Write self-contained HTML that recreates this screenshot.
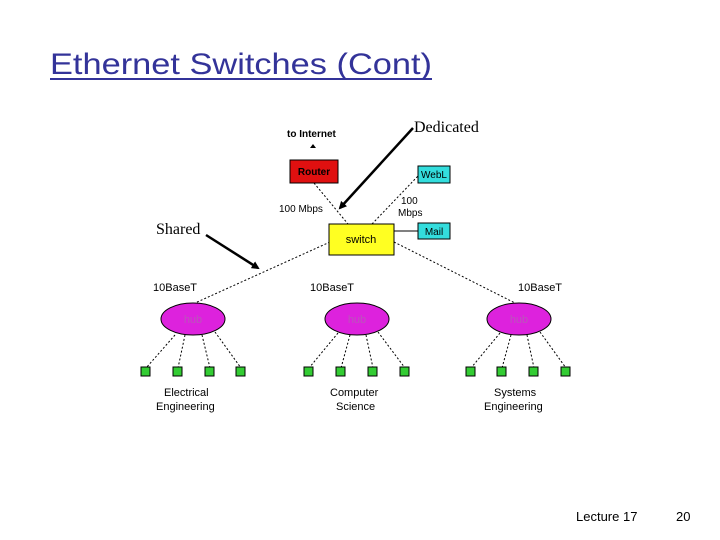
<!DOCTYPE html>
<html><head><meta charset="utf-8"><style>
html,body{margin:0;padding:0;background:#fff;}
svg{display:block;}
</style></head><body>
<svg width="720" height="540" viewBox="0 0 720 540" xmlns="http://www.w3.org/2000/svg">
<defs>
<marker id="ah" markerWidth="8" markerHeight="8" refX="6" refY="4" orient="auto" markerUnits="userSpaceOnUse"><path d="M0,0 L8,4 L0,8 Z" fill="#000"/></marker>
</defs>
<text x="50" y="74" font-family="Liberation Sans, sans-serif" font-size="30" fill="#333399" textLength="382" lengthAdjust="spacingAndGlyphs">Ethernet Switches (Cont)</text>
<line x1="50" y1="79" x2="432" y2="79" stroke="#333399" stroke-width="2"/>

<g font-family="Liberation Sans, sans-serif" font-size="11" fill="#000">
<text x="287" y="137" font-weight="bold" font-size="10">to Internet</text>
<path d="M313,144 l-3,4 h6 z" fill="#000"/>
<text x="279" y="212" font-size="10">100 Mbps</text>
<text x="401" y="204" font-size="10">100</text>
<text x="398" y="216" font-size="10">Mbps</text>
<text x="153" y="291">10BaseT</text>
<text x="310" y="291">10BaseT</text>
<text x="518" y="291">10BaseT</text>
<text x="164" y="396">Electrical</text>
<text x="156" y="410">Engineering</text>
<text x="330" y="396">Computer</text>
<text x="336" y="410">Science</text>
<text x="494" y="396">Systems</text>
<text x="484" y="410">Engineering</text>
</g>

<g stroke="#000" stroke-width="1" stroke-dasharray="2,2" fill="none">
<line x1="314" y1="183" x2="348" y2="224"/>
<line x1="372" y1="224" x2="418" y2="176"/>
<line x1="330" y1="242" x2="195" y2="303"/>
<line x1="394" y1="242" x2="515" y2="303"/>
<line x1="175" y1="335" x2="146" y2="368"/>
<line x1="185" y1="335" x2="178" y2="368"/>
<line x1="202" y1="335" x2="210" y2="368"/>
<line x1="215" y1="332" x2="241" y2="368"/>
<line x1="338" y1="333" x2="309" y2="368"/>
<line x1="350" y1="335" x2="341" y2="368"/>
<line x1="366" y1="335" x2="373" y2="368"/>
<line x1="378" y1="332" x2="405" y2="368"/>
<line x1="500" y1="333" x2="471" y2="368"/>
<line x1="511" y1="335" x2="502" y2="368"/>
<line x1="527" y1="335" x2="534" y2="368"/>
<line x1="540" y1="332" x2="566" y2="368"/>
</g>
<line x1="394" y1="231" x2="418" y2="231" stroke="#000"/>

<rect x="290" y="160" width="48" height="23" fill="#e01010" stroke="#000"/>
<text x="314" y="175" text-anchor="middle" font-family="Liberation Sans, sans-serif" font-size="10" font-weight="bold" fill="#000">Router</text>
<rect x="418" y="166" width="32" height="17" fill="#33dddd" stroke="#000"/>
<text x="434" y="178" text-anchor="middle" font-family="Liberation Sans, sans-serif" font-size="10">WebL</text>
<rect x="418" y="223" width="32" height="16" fill="#33dddd" stroke="#000"/>
<text x="434" y="235" text-anchor="middle" font-family="Liberation Sans, sans-serif" font-size="10">Mail</text>
<rect x="329" y="224" width="65" height="31" fill="#ffff22" stroke="#000"/>
<text x="361" y="243" text-anchor="middle" font-family="Liberation Sans, sans-serif" font-size="11">switch</text>

<g fill="#dd22dd" stroke="#000">
<ellipse cx="193" cy="319" rx="32" ry="16"/>
<ellipse cx="357" cy="319" rx="32" ry="16"/>
<ellipse cx="519" cy="319" rx="32" ry="16"/>
</g>
<g font-family="Liberation Sans, sans-serif" font-size="11" fill="#bb55bb" text-anchor="middle">
<text x="193" y="323">hub</text><text x="357" y="323">hub</text><text x="519" y="323">hub</text>
</g>

<g fill="#33cc33" stroke="#000">
<rect x="141" y="367" width="9" height="9"/><rect x="173" y="367" width="9" height="9"/><rect x="205" y="367" width="9" height="9"/><rect x="236" y="367" width="9" height="9"/>
<rect x="304" y="367" width="9" height="9"/><rect x="336" y="367" width="9" height="9"/><rect x="368" y="367" width="9" height="9"/><rect x="400" y="367" width="9" height="9"/>
<rect x="466" y="367" width="9" height="9"/><rect x="497" y="367" width="9" height="9"/><rect x="529" y="367" width="9" height="9"/><rect x="561" y="367" width="9" height="9"/>
</g>

<line x1="413" y1="128" x2="340" y2="208" stroke="#000" stroke-width="2.5" marker-end="url(#ah)"/>
<line x1="206" y1="235" x2="258" y2="268" stroke="#000" stroke-width="2.5" marker-end="url(#ah)"/>
<g font-family="Liberation Serif, serif" font-size="16" fill="#000">
<text x="414" y="132">Dedicated</text>
<text x="156" y="234">Shared</text>
</g>
<g font-family="Liberation Sans, sans-serif" font-size="13" fill="#000">
<text x="576" y="521">Lecture 17</text>
<text x="676" y="521">20</text>
</g>
</svg>
</body></html>
